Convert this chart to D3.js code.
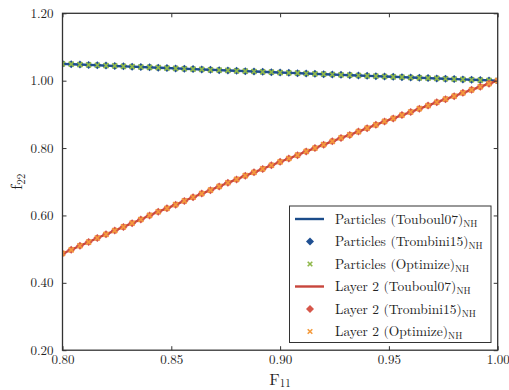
<!DOCTYPE html>
<html><head><meta charset="utf-8">
<script src="https://cdn.jsdelivr.net/npm/d3@7"></script>
<style>body{margin:0;background:#fff}svg{display:block}</style>
</head><body>
<script>
// F11 sample points (step 0.004)
const F11 = d3.range(51).map(i => +(0.8 + i*0.004).toFixed(3));
const particles = [1.0500,1.0489,1.0479,1.0468,1.0458,1.0447,1.0437,1.0426,1.0416,1.0406,1.0395,1.0385,1.0375,1.0364,1.0354,1.0344,1.0334,1.0323,1.0313,1.0303,1.0293,1.0283,1.0273,1.0263,1.0252,1.0242,1.0233,1.0223,1.0213,1.0203,1.0193,1.0183,1.0173,1.0163,1.0154,1.0144,1.0134,1.0124,1.0115,1.0105,1.0095,1.0086,1.0076,1.0066,1.0057,1.0047,1.0038,1.0028,1.0019,1.0009,1.0000];
const layer2 = [0.487,0.498,0.510,0.521,0.533,0.544,0.555,0.566,0.577,0.588,0.600,0.611,0.621,0.632,0.643,0.654,0.665,0.675,0.686,0.697,0.707,0.718,0.728,0.738,0.749,0.759,0.769,0.779,0.790,0.800,0.810,0.820,0.830,0.839,0.849,0.859,0.869,0.879,0.888,0.898,0.907,0.917,0.926,0.936,0.945,0.954,0.964,0.973,0.982,0.991,1.000];
const particlesTrombini = particles;
const particlesOptimize = particles;
const layer2Trombini = layer2;
const layer2Optimize = layer2;
const xTicks = [0.80,0.85,0.90,0.95,1.00];
const yTicks = [0.20,0.40,0.60,0.80,1.00,1.20];
const legendLabels = ["Particles (Touboul07)","Particles (Trombini15)","Particles (Optimize)","Layer 2 (Touboul07)","Layer 2 (Trombini15)","Layer 2 (Optimize)"];

const FONT='"Latin Modern Roman","Liberation Serif",serif';
const W=509,H=390, L=62.5, R=497.7, T=13.3, B=350.2;
const svg=d3.select("body").append("svg").attr("width",W).attr("height",H);
const x=d3.scaleLinear().domain([0.8,1.0]).range([L,R]);
const y=d3.scaleLinear().domain([0.2,1.2]).range([B,T]);

svg.append("defs").append("clipPath").attr("id","clip").append("rect")
  .attr("x",L).attr("y",T).attr("width",R-L).attr("height",B-T);

const C={pLine:"#1b4c8a",pDia:"#1f4f92",pX:"#8fb84a",lLine:"#c8463c",lDia:"#d6564a",lX:"#f49a3c"};
const g=svg.append("g").attr("clip-path","url(#clip)");
const line=d3.line().x((d,i)=>x(F11[i])).y(d=>y(d));
function series(vals,lc){
  g.append("path").attr("d",line(vals)).attr("fill","none").attr("stroke",lc).attr("stroke-width",2.4);
}
function markers(vals,color,type){
  const sel=g.append("g").selectAll("path").data(vals).join("path");
  if(type==="d"){
    sel.attr("d",(d,i)=>{const cx=x(F11[i]),cy=y(d),r=4;return `M${cx},${cy-r}L${cx+r},${cy}L${cx},${cy+r}L${cx-r},${cy}Z`;}).attr("fill",color);
  } else {
    sel.attr("d",(d,i)=>{const cx=x(F11[i]),cy=y(d),r=2.5;return `M${cx-r},${cy-r}L${cx+r},${cy+r}M${cx-r},${cy+r}L${cx+r},${cy-r}`;})
      .attr("stroke",color).attr("stroke-width",1.7).attr("fill","none");
  }
}
series(particles,C.pLine);
markers(particlesTrombini,C.pDia,"d");
markers(particlesOptimize,C.pX,"x");
series(layer2,C.lLine);
markers(layer2Trombini,C.lDia,"d");
markers(layer2Optimize,C.lX,"x");

// frame
svg.append("rect").attr("x",L).attr("y",T).attr("width",R-L).attr("height",B-T)
  .attr("fill","none").attr("stroke","#333").attr("stroke-width",1.3);

// axes with inward ticks
const fmt=d3.format(".2f");
const axB=svg.append("g").attr("transform",`translate(0,${B})`).call(d3.axisBottom(x).tickValues(xTicks).tickFormat(fmt).tickSizeInner(-4).tickSizeOuter(0).tickPadding(5));
const axT=svg.append("g").attr("transform",`translate(0,${T})`).call(d3.axisTop(x).tickValues(xTicks).tickFormat("").tickSizeInner(-4).tickSizeOuter(0));
const axL=svg.append("g").attr("transform",`translate(${L},0)`).call(d3.axisLeft(y).tickValues(yTicks).tickFormat(fmt).tickSizeInner(-4).tickSizeOuter(0).tickPadding(9));
const axR=svg.append("g").attr("transform",`translate(${R},0)`).call(d3.axisRight(y).tickValues(yTicks).tickFormat("").tickSizeInner(-4).tickSizeOuter(0));
[axB,axT,axL,axR].forEach(a=>{a.select(".domain").remove();a.attr("font-family",null).attr("font-size",null);a.selectAll("line").attr("stroke","#333");a.selectAll("text").style("font-family",FONT).style("font-size","13px").attr("fill","#222");});

// axis titles
const xt=svg.append("text").attr("x",(L+R)/2).attr("y",384.5).attr("text-anchor","middle").style("font-family",FONT).style("font-size","16px").attr("fill","#222");
xt.append("tspan").text("F");
xt.append("tspan").style("font-size","11px").attr("dy",2).text("11");
const yt=svg.append("text").attr("transform",`translate(22,${(T+B)/2}) rotate(-90)`).attr("text-anchor","middle").style("font-family",FONT).style("font-size","16px").attr("fill","#222");
yt.append("tspan").text("f");
yt.append("tspan").style("font-size","11px").attr("dy",3).text("22");

// legend
const lg=svg.append("g");
const lx0=289.5, ly0=206, lw=201.5, lh=136.5;
lg.append("rect").attr("x",lx0).attr("y",ly0).attr("width",lw).attr("height",lh).attr("fill","#fff").attr("stroke","#333").attr("stroke-width",1);
const kinds=[["l",C.pLine],["d",C.pDia],["x",C.pX],["l",C.lLine],["d",C.lDia],["x",C.lX]];
legendLabels.forEach((lab,i)=>{
  const cy=219+i*22.5, cx=310;
  const [k,c]=kinds[i];
  if(k==="l") lg.append("line").attr("x1",295).attr("x2",324).attr("y1",cy).attr("y2",cy).attr("stroke",c).attr("stroke-width",2.4);
  else if(k==="d"){const r=4;lg.append("path").attr("d",`M${cx},${cy-r}L${cx+r},${cy}L${cx},${cy+r}L${cx-r},${cy}Z`).attr("fill",c);}
  else {const r=2.3;lg.append("path").attr("d",`M${cx-r},${cy-r}L${cx+r},${cy+r}M${cx-r},${cy+r}L${cx+r},${cy-r}`).attr("stroke",c).attr("stroke-width",1.6);}
  const t=lg.append("text").attr("x",335).attr("y",cy+4.5).style("font-family",FONT).style("font-size","13.5px").attr("fill","#222");
  t.append("tspan").text(lab);
  t.append("tspan").style("font-size","9.5px").attr("dy",3).text("NH");
});
</script>
</body></html>
